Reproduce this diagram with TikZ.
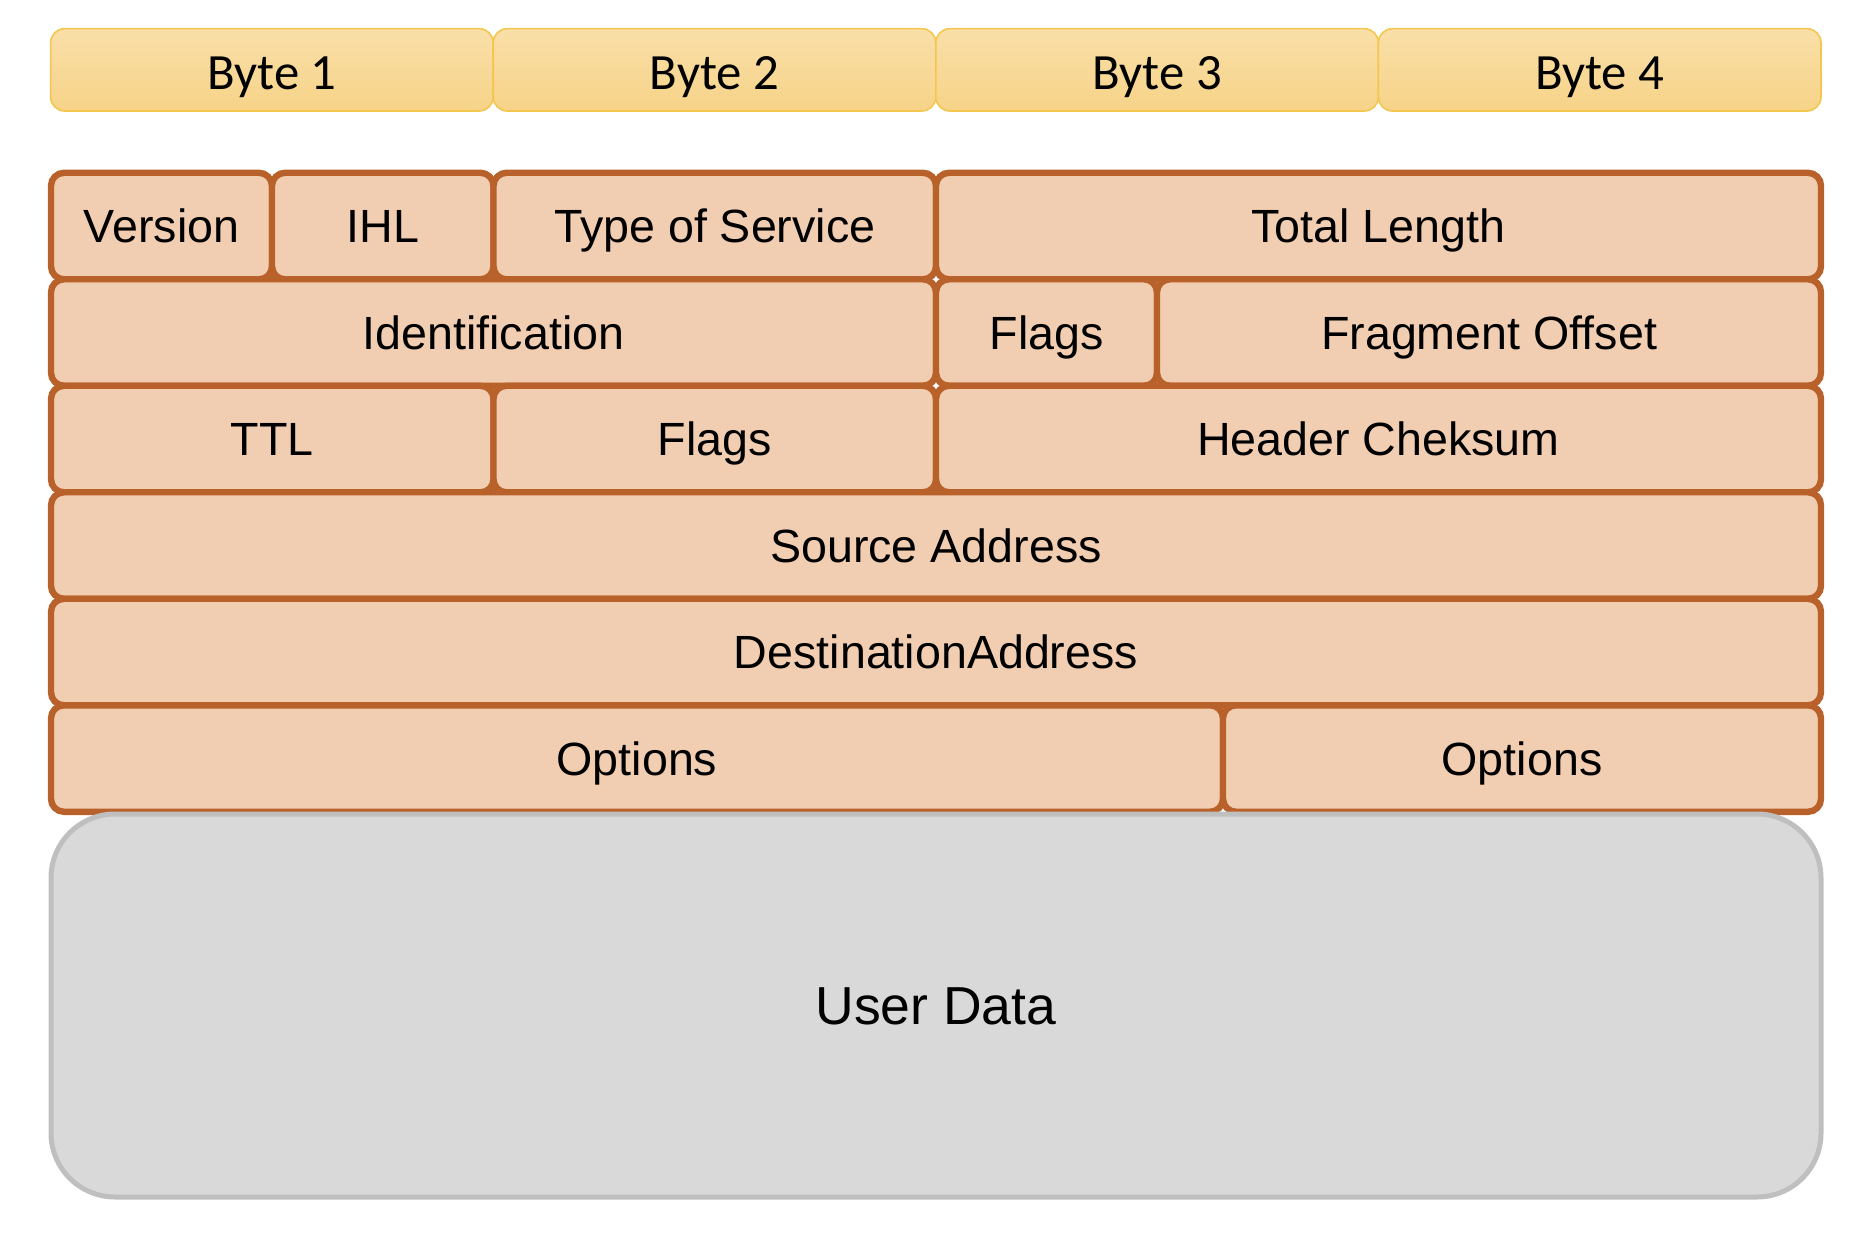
\documentclass[tikz,border=0pt]{standalone}
\usepackage{fontspec}
\setmainfont{Liberation Sans}
\newfontfamily\calib{Carlito}
\definecolor{bytetop}{HTML}{F9DFA8}
\definecolor{bytebot}{HTML}{F6D388}
\definecolor{byteline}{HTML}{F3C650}
\definecolor{fldfill}{HTML}{F1CDB1}
\definecolor{fldline}{HTML}{B9612B}
\definecolor{udfill}{HTML}{D9D9D9}
\definecolor{udline}{HTML}{BFBFBF}
\tikzset{
  bytebox/.style={draw=byteline, line width=0.8pt, top color=bytetop, bottom color=bytebot,
    rounded corners=7pt, inner sep=0pt, outer sep=0pt, minimum height=41.15pt,
    minimum width=221.3pt},
  bytelabel/.style={inner sep=0pt, font=\calib\fontsize{25.4}{28}\selectfont,
    text height=16.4pt, text depth=0pt},
  fieldbox/.style={draw=fldline, fill=fldfill, line width=3.2pt, rounded corners=6.5pt,
    inner sep=0pt, outer sep=0pt, minimum height=53.25pt,
    font=\fontsize{23.3}{26}\selectfont, text height=16.7pt, text depth=0pt},
  udbox/.style={draw=udline, fill=udfill, line width=2.5pt, rounded corners=32pt,
    inner sep=0pt, outer sep=0pt, font=\fontsize{26.75}{30}\selectfont,
    text height=19.2pt, text depth=0pt}
}
\begin{document}
\begin{tikzpicture}[x=0.5pt,y=-0.5pt]
\useasboundingbox (0,0) rectangle (1856,1234);
% byte header
\node[bytebox] (b1) at (271.9,69.85) {};
\node[bytebox] (b2) at (714.5,69.85) {};
\node[bytebox] (b3) at (1157.1,69.85) {};
\node[bytebox] (b4) at (1599.7,69.85) {};
\node[bytelabel] (t1) at (271.9,73) {Byte 1};
\node[bytelabel] (t2) at (714.5,73) {Byte 2};
\node[bytelabel] (t3) at (1157.1,73) {Byte 3};
\node[bytelabel] (t4) at (1599.7,73) {Byte 4};
% row 1
\node[fieldbox, minimum width=110.5pt] (ver) at (161.5,226.05) {Version};
\node[fieldbox, minimum width=110.75pt] (ihl) at (382.75,226.05) {IHL};
\node[fieldbox, minimum width=221.25pt] (tos) at (714.75,226.05) {Type of Service};
\node[fieldbox, minimum width=442.5pt] (tl) at (1378.5,226.05) {Total Length};
% row 2
\node[fieldbox, minimum width=442.5pt] (id) at (493.5,332.55) {Identification};
\node[fieldbox, minimum width=110.5pt] (flg) at (1046.5,332.55) {Flags};
\node[fieldbox, minimum width=332pt] (fo) at (1489,332.55) {Fragment Offset};
% row 3
\node[fieldbox, minimum width=221.25pt] (ttl) at (272.25,439.05) {TTL};
\node[fieldbox, minimum width=221.25pt] (flg2) at (714.75,439.05) {Flags};
\node[fieldbox, minimum width=442.5pt] (hc) at (1378.5,439.05) {Header Cheksum};
% row 4, 5
\node[fieldbox, minimum width=885pt] (src) at (936,545.55) {Source Address};
\node[fieldbox, minimum width=885pt] (dst) at (936,652.05) {DestinationAddress};
% row 6
\node[fieldbox, minimum width=586pt] (opt1) at (637,758.55) {Options};
\node[fieldbox, minimum width=299pt] (opt2) at (1522,758.55) {Options};
% user data
\node[udbox, minimum width=885pt, minimum height=191.5pt] (ud) at (936,1005.5) {User Data};
\end{tikzpicture}
\end{document}
